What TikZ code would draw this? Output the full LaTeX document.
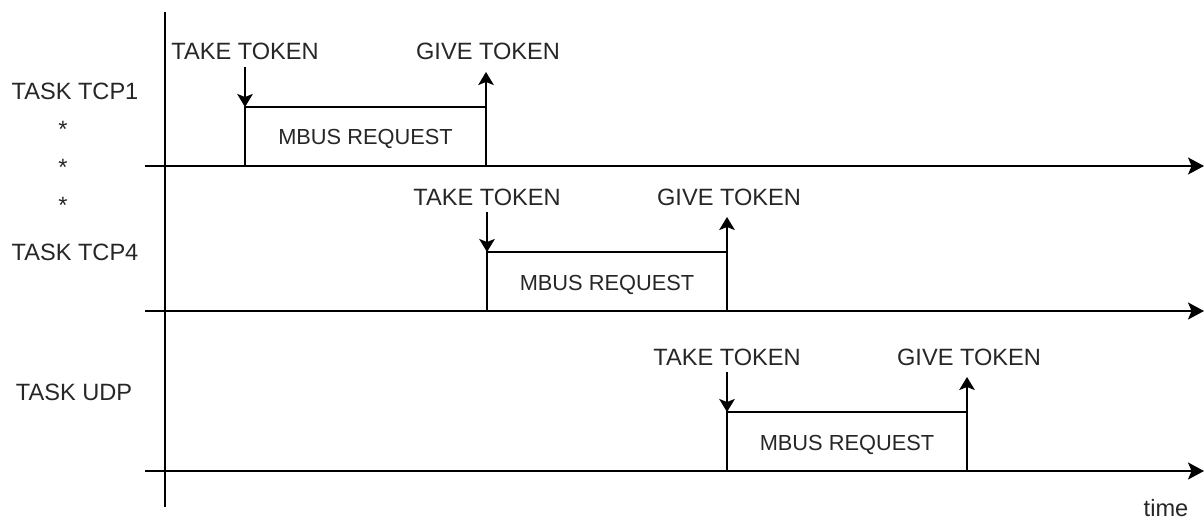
\documentclass[tikz,border=0pt]{standalone}
\usepackage{fontspec}
\setmainfont{Liberation Sans}
\usetikzlibrary{arrows.meta}
\begin{document}
\begin{tikzpicture}[x=0.5pt,y=-0.5pt,
  axis/.style={line width=1pt, draw=black},
  tline/.style={line width=0.9pt, draw=black},
  tip/.style={-{Stealth[length=6.5pt,width=7.8pt,inset=1.5pt]}},
  atip/.style={-{Stealth[length=8pt,width=8.5pt,inset=1.8pt]}},
  lbl/.style={font=\fontsize{11.8}{13}\selectfont, text=black!85, inner sep=0pt, anchor=base},
  req/.style={font=\fontsize{10.9}{13}\selectfont, text=black!85, inner sep=0pt, anchor=base}]
\useasboundingbox (0,0) rectangle (1204,519);
% vertical axis
\coordinate (ytop) at (165,12);
\coordinate (ybot) at (165,507);
\draw[axis] (ytop) -- (ybot);
% rows
\foreach \n/\b/\l/\r in {1/166/245/486, 2/311/487/727, 3/471/727/967} {
  \coordinate (s\n) at (145,\b);
  \coordinate (e\n) at (1204,\b);
  \draw[axis,atip] (s\n) -- (e\n);
  \coordinate (bl\n) at (\l,\b);
  \coordinate (tl\n) at (\l,\b-59);
  \coordinate (tr\n) at (\r,\b-59);
  \coordinate (br\n) at (\r,\b);
  \coordinate (ts\n) at (\l,\b-99);
  \coordinate (gt\n) at (\r,\b-94);
  \draw[tline] (bl\n) -- (tl\n) -- (tr\n);
  \draw[tline,tip] (ts\n) -- (tl\n);
  \draw[tline,tip] (br\n) -- (gt\n);
  \node[lbl] (take\n) at (\l,\b-106) {TAKE TOKEN};
  \node[lbl] (give\n) at (\r+2,\b-106) {GIVE TOKEN};
  \node[req] (mbus\n) at ({(\l+\r)/2},\b-21) {MBUS REQUEST};
}
% task labels
\node[lbl] (tcp1) at (75,100) {TASK TCP1};
\node[lbl] (st1) at (63,137) {*};
\node[lbl] (st2) at (63,175) {*};
\node[lbl] (st3) at (63,213) {*};
\node[lbl] (tcp4) at (75,260) {TASK TCP4};
\node[lbl] (udp) at (74,400) {TASK UDP};
\node[lbl] (time) at (1166,516) {time};
\end{tikzpicture}
\end{document}
